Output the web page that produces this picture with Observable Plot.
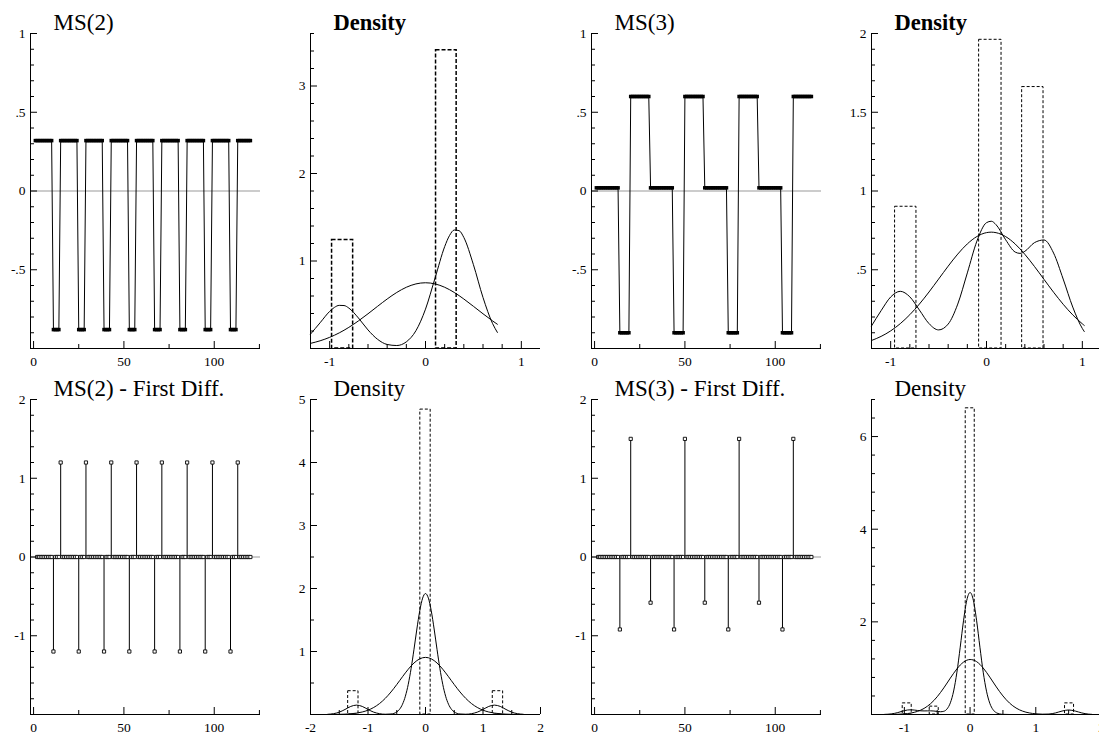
<!DOCTYPE html>
<html><head><meta charset="utf-8">
<script src="https://cdn.jsdelivr.net/npm/d3@7"></script>
<script src="https://cdn.jsdelivr.net/npm/@observablehq/plot@0.6"></script>
<style>
html,body{margin:0;padding:0;background:#fff;}
#chart{position:relative;width:1099px;height:737px;overflow:hidden;background:#fff;}
#chart > svg{position:absolute;}
#chart svg text{font-family:'Liberation Serif','Times New Roman',Times,serif;}
</style></head><body><div id="chart"></div>
<script>
// ---------- time series: MS(2) ----------
const U = 0.32, D = -0.88;
const ms2 = [
  U,U,U,U,U,U,U,U,U,U,D,D,D,D,
  U,U,U,U,U,U,U,U,U,U,D,D,D,D,
  U,U,U,U,U,U,U,U,U,U,D,D,D,D,
  U,U,U,U,U,U,U,U,U,U,D,D,D,D,
  U,U,U,U,U,U,U,U,U,U,D,D,D,D,
  U,U,U,U,U,U,U,U,U,U,D,D,D,D,
  U,U,U,U,U,U,U,U,U,U,D,D,D,D,
  U,U,U,U,U,U,U,U,U,U,D,D,D,D,
  U,U,U,U,U,U,U,U
];
// first differences, t = 2..120
const ms2Diff = [
  0,0,0,0,0,0,0,0,0,-1.2,0,0,0,
  1.2,0,0,0,0,0,0,0,0,0,-1.2,0,0,0,
  1.2,0,0,0,0,0,0,0,0,0,-1.2,0,0,0,
  1.2,0,0,0,0,0,0,0,0,0,-1.2,0,0,0,
  1.2,0,0,0,0,0,0,0,0,0,-1.2,0,0,0,
  1.2,0,0,0,0,0,0,0,0,0,-1.2,0,0,0,
  1.2,0,0,0,0,0,0,0,0,0,-1.2,0,0,0,
  1.2,0,0,0,0,0,0,0,0,0,-1.2,0,0,0,
  1.2,0,0,0,0,0,0,0
];
// ---------- time series: MS(3) ----------
const M = 0.02, L = -0.9, H = 0.6;
const ms3 = [
  M,M,M,M,M,M,M,M,M,M,M,M,M,L,L,L,L,L,L,H,H,H,H,H,H,H,H,H,H,H,
  M,M,M,M,M,M,M,M,M,M,M,M,M,L,L,L,L,L,L,H,H,H,H,H,H,H,H,H,H,H,
  M,M,M,M,M,M,M,M,M,M,M,M,M,L,L,L,L,L,L,H,H,H,H,H,H,H,H,H,H,H,
  M,M,M,M,M,M,M,M,M,M,M,M,M,L,L,L,L,L,L,H,H,H,H,H,H,H,H,H,H,H
];
const ms3Diff = [
  0,0,0,0,0,0,0,0,0,0,0,0,-0.92,0,0,0,0,0,1.5,0,0,0,0,0,0,0,0,0,0,-0.58,
  0,0,0,0,0,0,0,0,0,0,0,0,-0.92,0,0,0,0,0,1.5,0,0,0,0,0,0,0,0,0,0,-0.58,
  0,0,0,0,0,0,0,0,0,0,0,0,-0.92,0,0,0,0,0,1.5,0,0,0,0,0,0,0,0,0,0,-0.58,
  0,0,0,0,0,0,0,0,0,0,0,0,-0.92,0,0,0,0,0,1.5,0,0,0,0,0,0,0,0,0,0
];

// ---------- densities ----------
const dens2X = [-1.2,-1.1,-1.0,-0.95,-0.9,-0.85,-0.8,-0.7,-0.6,-0.5,-0.4,-0.3,-0.2,-0.1,0,0.1,0.2,0.25,0.3,0.35,0.4,0.5,0.6,0.7,0.75];
const dens2Kernel = [0.164,0.294,0.424,0.470,0.493,0.491,0.462,0.349,0.212,0.105,0.046,0.034,0.076,0.203,0.450,0.806,1.164,1.290,1.354,1.347,1.269,0.958,0.583,0.285,0.184];
const dens2Normal = [0.0585,0.0880,0.1276,0.1517,0.1787,0.2087,0.2416,0.3152,0.3968,0.4823,0.5657,0.6405,0.6999,0.7381,0.7513,0.7381,0.6999,0.6725,0.6405,0.6046,0.5657,0.4823,0.3968,0.3152,0.2771];
const hist2Lo = [-0.975, 0.11];
const hist2Hi = [-0.755, 0.325];
const hist2Density = [1.24, 3.41];

const dens4X = [-1.2,-1.1,-1.0,-0.9,-0.8,-0.7,-0.6,-0.5,-0.4,-0.3,-0.2,-0.1,0,0.05,0.1,0.2,0.3,0.35,0.4,0.5,0.6,0.7,0.8,0.9,1.0,1.02];
const dens4Kernel = [0.143,0.240,0.327,0.363,0.328,0.244,0.158,0.118,0.155,0.282,0.480,0.682,0.799,0.808,0.786,0.690,0.612,0.604,0.617,0.672,0.689,0.606,0.441,0.263,0.127,0.108];
const dens4Normal = [0.0509,0.0768,0.1119,0.1577,0.2147,0.2823,0.3588,0.4406,0.5228,0.5995,0.6642,0.7111,0.7357,0.7387,0.7354,0.7104,0.6631,0.6324,0.5980,0.5212,0.4389,0.3572,0.2809,0.2134,0.1567,0.1467];
const hist4Lo = [-0.954, -0.077, 0.372];
const hist4Hi = [-0.731, 0.157, 0.595];
const hist4Density = [0.90, 1.96, 1.66];

const dens6X = [-1.7,-1.6,-1.5,-1.4,-1.3,-1.2,-1.1,-1.0,-0.9,-0.8,-0.7,-0.6,-0.5,-0.45,-0.4,-0.35,-0.3,-0.25,-0.2,-0.15,-0.1,-0.05,0,0.05,0.1,0.15,0.2,0.25,0.3,0.35,0.4,0.45,0.5,0.6,0.7,0.8,0.9,1.0,1.1,1.2,1.3,1.4,1.5,1.6,1.7];
const dens6Kernel = [0.003,0.013,0.037,0.080,0.128,0.149,0.128,0.080,0.037,0.013,0.004,0.008,0.041,0.084,0.163,0.290,0.479,0.732,1.036,1.357,1.646,1.847,1.920,1.847,1.646,1.357,1.036,0.732,0.479,0.290,0.163,0.084,0.041,0.008,0.004,0.013,0.037,0.080,0.128,0.149,0.128,0.080,0.037,0.013,0.003];
const dens6Normal = [0.0005,0.0012,0.0027,0.0057,0.0115,0.0220,0.0398,0.0685,0.1119,0.1736,0.2558,0.3578,0.4754,0.5374,0.5998,0.6608,0.7186,0.7716,0.8178,0.8555,0.8836,0.9009,0.9067,0.9009,0.8836,0.8555,0.8178,0.7716,0.7186,0.6608,0.5998,0.5374,0.4754,0.3578,0.2558,0.1736,0.1119,0.0685,0.0398,0.0220,0.0115,0.0057,0.0027,0.0012,0.0005];
const hist6Lo = [-1.345, -0.09, 1.17];
const hist6Hi = [-1.165, 0.09, 1.35];
const hist6Density = [0.37, 4.84, 0.37];

const dens8X = [-1.3,-1.2,-1.1,-1.0,-0.95,-0.9,-0.85,-0.8,-0.75,-0.7,-0.65,-0.6,-0.55,-0.5,-0.45,-0.4,-0.35,-0.3,-0.25,-0.2,-0.15,-0.1,-0.05,0,0.05,0.1,0.15,0.2,0.25,0.3,0.35,0.4,0.45,0.5,0.6,0.7,0.8,0.9,1.0,1.1,1.2,1.3,1.4,1.5,1.6,1.7,1.8,1.85];
const dens8Kernel = [0.0021,0.0122,0.0414,0.0830,0.0972,0.1013,0.0962,0.0869,0.0795,0.0771,0.0784,0.0791,0.0750,0.0662,0.0595,0.0692,0.1209,0.2521,0.5076,0.9152,1.4526,2.0221,2.4664,2.635,2.4664,2.0221,1.4521,0.9136,0.5035,0.2429,0.1028,0.0381,0.0124,0.0035,0.0002,0.0000,0.0000,0.0000,0.0001,0.0014,0.0090,0.0338,0.0748,0.0975,0.0748,0.0338,0.0090,0.0038];
const dens8Normal = [0.0006,0.0019,0.0053,0.0135,0.0209,0.0316,0.0466,0.0673,0.0951,0.1314,0.1775,0.2347,0.3034,0.3838,0.4746,0.5740,0.6793,0.7862,0.8900,0.9855,1.0672,1.1305,1.1712,1.187,1.1764,1.1405,1.0815,1.0030,0.9100,0.8074,0.7007,0.5948,0.4938,0.4011,0.2475,0.1397,0.0723,0.0342,0.0148,0.0059,0.0021,0.0007,0.0002,0.0001,0,0,0,0];
const hist8Lo = [-1.025, -0.614, -0.066, 1.445];
const hist8Hi = [-0.888, -0.477, 0.071, 1.582];
const hist8Density = [0.24, 0.17, 6.61, 0.24];

// ---------- tick labels ----------
const tsXLabels = [0, 50, 100], tsXMinor = [25, 75, 125];
const tsYLabels = [-0.5, 0, 0.5, 1];
const diffYLabels = [-1, 0, 1, 2];
const d2XLabels = [-1, 0, 1], d2YLabels = [1, 2, 3];
const d4XLabels = [-1, 0, 1], d4YLabels = [0.5, 1, 1.5, 2];
const d6XLabels = [-2, -1, 0, 1, 2], d6YLabels = [1, 2, 3, 4, 5];
const d8XLabels = [-1, 0, 1, 2], d8YLabels = [2, 4, 6];

const FONT = "'Liberation Serif','Times New Roman',Times,serif";
const fmt = d => String(+(+d).toFixed(4)).replace(/^(-?)0\./, "$1.");
function minors(lo, hi, step, major) {
  const out = [];
  for (let i = Math.round(lo / step); i * step <= hi + 1e-9; i++) {
    const v = +(i * step).toFixed(6);
    if (Math.abs(v / major - Math.round(v / major)) > 1e-6) out.push(v);
  }
  return out;
}

function axisMarks(xDomain, yDomain, xLab, xMin, yLab, yMin) {
  return [
    Plot.ruleX([xDomain[0]], {stroke: "#000", strokeWidth: 1}),
    Plot.ruleY([yDomain[0]], {stroke: "#000", strokeWidth: 1}),
    Plot.axisX(xLab, {tickSize: 7, dy: -7, fill: "none", label: null, stroke: "#000"}),
    Plot.axisX(xMin, {tickSize: 4, dy: -4, fill: "none", label: null, stroke: "#000"}),
    Plot.axisY(yLab, {tickSize: 7, dx: 7, fill: "none", label: null, stroke: "#000"}),
    Plot.axisY(yMin, {tickSize: 4, dx: 4, fill: "none", label: null, stroke: "#000"}),
    Plot.text(xLab, {x: d => d, text: fmt, frameAnchor: "bottom", dy: 8, lineAnchor: "top", textAnchor: "middle", fontSize: 13.5, fontFamily: FONT, fill: "#000"}),
    Plot.text(yLab, {y: d => d, text: fmt, frameAnchor: "left", dx: -5, lineAnchor: "middle", textAnchor: "end", fontSize: 13.5, fontFamily: FONT, fill: "#000"})
  ];
}

const chart = document.getElementById("chart");
function panel({left, row, title, bold, xDomain, yDomain, xLab, xMin, yLab, yMin, marks}) {
  const svg = Plot.plot({
    width: 280,
    height: row === 0 ? 375 : 371,
    marginLeft: 30, marginRight: 20, marginTop: 33,
    marginBottom: row === 0 ? 27 : 23,
    x: {domain: xDomain, axis: null},
    y: {domain: yDomain, axis: null},
    style: {fontFamily: FONT, fontSize: "13px", background: "transparent", overflow: "visible", color: "#000"},
    marks: [
      ...marks,
      ...axisMarks(xDomain, yDomain, xLab, xMin, yLab, yMin),
      Plot.text([title], {text: d => d, frameAnchor: "top-left", dx: 23, dy: -4, textAnchor: "start", lineAnchor: "bottom", fontSize: bold ? 22.5 : 23, fontWeight: bold ? "bold" : "normal", fontFamily: FONT, fill: "#000"})
    ]
  });
  svg.style.left = left + "px";
  svg.style.top = (row === 0 ? 0 : 366) + "px";
  chart.appendChild(svg);
}

function tsMarks(values) {
  const rows = values.map((v, i) => ({t: i + 1, v}));
  return [
    Plot.ruleY([0], {stroke: "#999", strokeWidth: 1}),
    Plot.line(rows, {x: "t", y: "v", stroke: "#000", strokeWidth: 1}),
    Plot.dot(rows, {x: "t", y: "v", symbol: "square", r: 2, fill: "#000"})
  ];
}
function diffMarks(values) {
  const rows = values.map((v, i) => ({t: i + 2, v}));
  return [
    Plot.ruleY([0], {stroke: "#999", strokeWidth: 1}),
    Plot.ruleX(rows, {x: "t", y1: 0, y2: "v", stroke: "#000", strokeWidth: 1}),
    Plot.dot(rows, {x: "t", y: "v", symbol: "square", r: 1.8, fill: "#fff", stroke: "#000", strokeWidth: 0.9})
  ];
}
function densMarks(xs, kern, norm, lo, hi, dens, dashW) {
  const hist = lo.map((l, i) => ({lo: l, hi: hi[i], d: dens[i]}));
  const k = xs.map((x, i) => ({x, y: kern[i]}));
  const n = xs.map((x, i) => ({x, y: norm[i]}));
  return [
    Plot.rect(hist, {x1: "lo", x2: "hi", y1: 0, y2: "d", fill: "none", stroke: "#000", strokeWidth: dashW, strokeDasharray: dashW > 1 ? "4,2" : "3,2"}),
    Plot.line(n, {x: "x", y: "y", curve: "monotone-x", stroke: "#000", strokeWidth: 1}),
    Plot.line(k, {x: "x", y: "y", curve: "monotone-x", stroke: "#000", strokeWidth: 1})
  ];
}

const tsX = [-1.7, 125.6];

panel({left: 0, row: 0, title: "MS(2)", bold: false, xDomain: tsX, yDomain: [-1, 1],
  xLab: tsXLabels, xMin: tsXMinor, yLab: tsYLabels, yMin: minors(-0.9, 0.9, 0.1, 0.5), marks: tsMarks(ms2)});
panel({left: 280, row: 0, title: "Density", bold: true, xDomain: [-1.2, 1.2], yDomain: [0, 3.6],
  xLab: d2XLabels, xMin: minors(-0.8, 0.8, 0.2, 1), yLab: d2YLabels, yMin: minors(0.2, 3.6, 0.2, 1),
  marks: densMarks(dens2X, dens2Kernel, dens2Normal, hist2Lo, hist2Hi, hist2Density, 1.5)});
panel({left: 561, row: 0, title: "MS(3)", bold: false, xDomain: tsX, yDomain: [-1, 1],
  xLab: tsXLabels, xMin: tsXMinor, yLab: tsYLabels, yMin: minors(-0.9, 0.9, 0.1, 0.5), marks: tsMarks(ms3)});
panel({left: 841, row: 0, title: "Density", bold: true, xDomain: [-1.2, 1.2], yDomain: [0, 2],
  xLab: d4XLabels, xMin: minors(-0.8, 0.8, 0.2, 1), yLab: d4YLabels, yMin: minors(0.1, 1.9, 0.1, 0.5),
  marks: densMarks(dens4X, dens4Kernel, dens4Normal, hist4Lo, hist4Hi, hist4Density, 1)});

panel({left: 0, row: 1, title: "MS(2) - First Diff.", bold: false, xDomain: tsX, yDomain: [-2, 2],
  xLab: tsXLabels, xMin: tsXMinor, yLab: diffYLabels, yMin: minors(-1.8, 1.8, 0.2, 1), marks: diffMarks(ms2Diff)});
panel({left: 280, row: 1, title: "Density", bold: false, xDomain: [-2, 2], yDomain: [0, 5],
  xLab: d6XLabels, xMin: minors(-1.5, 1.5, 0.5, 1), yLab: d6YLabels, yMin: minors(0.5, 4.5, 0.5, 1),
  marks: densMarks(dens6X, dens6Kernel, dens6Normal, hist6Lo, hist6Hi, hist6Density, 1)});
panel({left: 561, row: 1, title: "MS(3) - First Diff.", bold: false, xDomain: tsX, yDomain: [-2, 2],
  xLab: tsXLabels, xMin: tsXMinor, yLab: diffYLabels, yMin: minors(-1.8, 1.8, 0.2, 1), marks: diffMarks(ms3Diff)});
panel({left: 841, row: 1, title: "Density", bold: false, xDomain: [-1.5, 2], yDomain: [0, 6.8],
  xLab: d8XLabels, xMin: minors(-0.5, 1.5, 0.5, 1), yLab: d8YLabels, yMin: minors(0.4, 6.8, 0.4, 2),
  marks: densMarks(dens8X, dens8Kernel, dens8Normal, hist8Lo, hist8Hi, hist8Density, 1)});
</script>
</body></html>
